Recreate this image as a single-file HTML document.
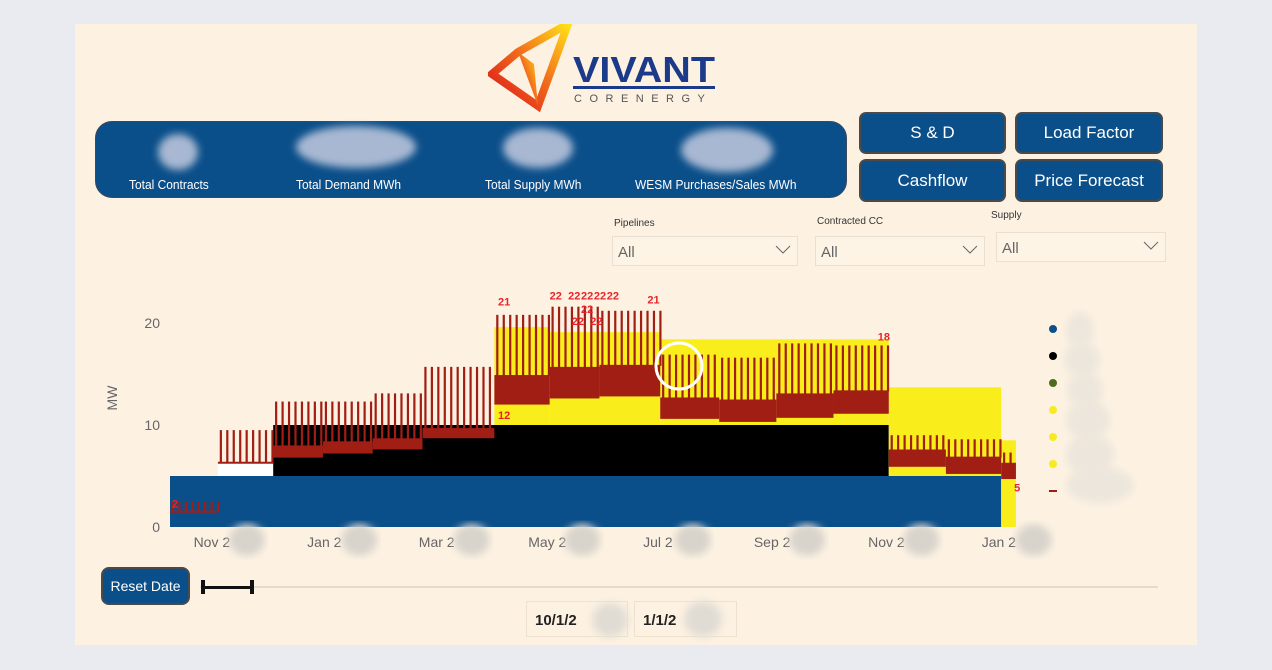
<!DOCTYPE html>
<html><head><meta charset="utf-8">
<style>
body{margin:0;width:1272px;height:670px;background:#e9ebf0;font-family:"Liberation Sans",sans-serif;position:relative;overflow:hidden}
.abs{position:absolute}
.canvas{left:75px;top:24px;width:1122px;height:621px;background:#fdf2e2}
.kpi{left:95px;top:121px;width:750px;height:75px;background:#0b4f8a;border-radius:17px;border:1px solid #3a4a5a}
.kl{color:#fff;font-size:13px;position:absolute;top:55px;white-space:nowrap;transform:scaleX(0.92);transform-origin:left}
.blob{position:absolute;border-radius:50%;filter:blur(4px)}
.btn{position:absolute;background:#0b4f8a;color:#fff;border-radius:7px;border:2px solid #4a4a4a;font-size:17px;display:flex;align-items:center;justify-content:center;box-sizing:border-box}
.lab{position:absolute;font-size:10px;color:#333}
.dd{position:absolute;border:1px solid #e8e0d2;background:#fdf4e6;box-sizing:border-box;color:#666;font-size:15px;padding:7px 0 0 5px}
.dd svg{position:absolute;right:6px;top:8px}
</style></head><body>
<div class="abs canvas"></div>

<svg class="abs" style="left:488px;top:24px" width="240" height="88">
<defs><linearGradient id="lg" x1="0" y1="1" x2="1" y2="0"><stop offset="0" stop-color="#d9151b"/><stop offset="0.5" stop-color="#f26a1b"/><stop offset="1" stop-color="#ffe11a"/></linearGradient></defs>
<polygon points="80,0 50,82 4,50 30,28" fill="none" stroke="url(#lg)" stroke-width="8"/>
<polygon points="30,28 46,40 50,82" fill="url(#lg)"/>
<text x="85" y="58" font-size="36" font-weight="bold" fill="#1c3a8a" font-family="Liberation Sans" textLength="142" lengthAdjust="spacingAndGlyphs">VIVANT</text>
<rect x="85" y="62" width="142" height="3" fill="#1c3a8a"/>
<text x="86" y="78" font-size="11" fill="#555" letter-spacing="7.5">CORENERGY</text>
</svg>

<div class="abs kpi">
  <div class="blob" style="left:62px;top:12px;width:40px;height:36px;background:#a8b8d2"></div>
  <div class="blob" style="left:200px;top:4px;width:120px;height:42px;background:#a8b8d2"></div>
  <div class="blob" style="left:407px;top:6px;width:70px;height:40px;background:#a8b8d2"></div>
  <div class="blob" style="left:585px;top:6px;width:92px;height:44px;background:#a8b8d2"></div>
  <div class="kl" style="left:33px">Total Contracts</div>
  <div class="kl" style="left:200px">Total Demand MWh</div>
  <div class="kl" style="left:389px">Total Supply MWh</div>
  <div class="kl" style="left:539px">WESM Purchases/Sales MWh</div>
</div>
<div class="btn" style="left:859px;top:112px;width:147px;height:42px">S &amp; D</div>
<div class="btn" style="left:1015px;top:112px;width:148px;height:42px">Load Factor</div>
<div class="btn" style="left:859px;top:159px;width:147px;height:43px">Cashflow</div>
<div class="btn" style="left:1015px;top:159px;width:148px;height:43px">Price Forecast</div>

<div class="lab" style="left:614px;top:218px">Pipelines</div>
<div class="dd" style="left:612px;top:236px;width:186px;height:30px">All<svg width="16" height="10"><polyline points="1,1 8,8 15,1" fill="none" stroke="#666"/></svg></div>
<div class="lab" style="left:817px;top:216px">Contracted CC</div>
<div class="dd" style="left:815px;top:236px;width:170px;height:30px">All<svg width="16" height="10"><polyline points="1,1 8,8 15,1" fill="none" stroke="#666"/></svg></div>
<div class="lab" style="left:991px;top:210px">Supply</div>
<div class="dd" style="left:996px;top:232px;width:170px;height:30px">All<svg width="16" height="10"><polyline points="1,1 8,8 15,1" fill="none" stroke="#666"/></svg></div>

<svg id="chart" class="abs" style="left:0;top:0" width="1272" height="670"></svg>

<div class="btn" style="left:101px;top:567px;width:89px;height:38px;font-size:14px;border-radius:8px">Reset Date</div>
<div class="abs" style="left:200px;top:586px;width:958px;height:2px;background:#e4dccd"></div>
<div class="abs" style="left:203px;top:586px;width:50px;height:3px;background:#111"></div>
<div class="abs" style="left:201px;top:580px;width:4px;height:14px;background:#111"></div>
<div class="abs" style="left:250px;top:580px;width:4px;height:14px;background:#111"></div>
<div class="abs" style="left:526px;top:601px;width:102px;height:36px;border:1px solid #eee2cf;box-sizing:border-box;font-size:15px;font-weight:bold;padding:10px 0 0 8px;color:#222">10/1/2</div>
<div class="abs" style="left:634px;top:601px;width:103px;height:36px;border:1px solid #eee2cf;box-sizing:border-box;font-size:15px;font-weight:bold;padding:10px 0 0 8px;color:#222">1/1/2</div>
<div class="blob" style="left:592px;top:603px;width:36px;height:34px;background:#e0dcd4"></div>
<div class="blob" style="left:684px;top:601px;width:38px;height:36px;background:#e0dcd4"></div>

<script>
// Time axis: days since mid-Oct (x=170). Month ticks.
const tickLabels=["Nov 2","Jan 2","Mar 2","May 2","Jul 2","Sep 2","Nov 2","Jan 2"];
const tickDays=[20,81,142,202,262,324,386,447];
const yTicks=[0,10,20];
// Stacked area blocks: [startDay, endDay, bottom, top]
const blueBlocks=[[0,451,0,5]];
const whiteBlocks=[[26,56,5,6.3]];
const blackBlocks=[[56,390,5,10]];
const yellowBlocks=[[176,206,10,19.6],[206,266,10,19.1],[266,390,10,18.4],[390,451,5,13.7],[451,459,0,8.5]];
// Red demand line segments
const redStart=[0,26,56,83,110,137,176,206,233,266,298,329,360,390,421,451];
const redEnd=[26,56,83,110,137,176,206,233,266,298,329,360,390,421,451,459];
const redLow=[1.5,6.3,6.9,7.3,7.7,8.8,12.1,12.7,12.9,10.7,10.4,10.8,11.2,6.0,5.3,4.8];
const redHigh=[1.5,6.3,7.9,8.3,8.6,9.6,14.8,15.6,15.8,12.6,12.4,13.0,13.3,7.5,6.8,6.2];
const redPeak=[2.5,9.5,12.3,12.3,13.1,15.7,20.8,21.6,21.2,16.9,16.6,18.0,17.8,9.0,8.6,7.3];
const dataLabels=[["2",1,1.9],["21",178,21.7],["22",206,22.3],["22",216,22.3],["22",223,22.3],["22",230,22.3],["22",237,22.3],["22",223,21],["22",218,19.8],["22",228,19.8],["12",178,10.6],["21",259,21.9],["18",384,18.3],["5",458,3.5]];
const legendColors=["#0b4f8a","#000000","#4e6b1e","#f7ea1f","#f7ea1f","#f7ea1f"];

const svg=document.getElementById('chart');
const NS='http://www.w3.org/2000/svg';
const X=d=>170+d*1.843;
const Y=v=>527-v*10.2;
function el(t,a){const e=document.createElementNS(NS,t);for(const k in a)e.setAttribute(k,a[k]);svg.appendChild(e);return e;}
function blocks(arr,color,name){arr.forEach(b=>{const r=el('rect',{x:X(b[0]),y:Y(b[3]),width:X(b[1])-X(b[0]),height:Y(b[2])-Y(b[3]),fill:color});

});}
yTicks.forEach(v=>{const t=el('text',{x:160,y:Y(v)+5,'text-anchor':'end','font-size':14,fill:'#666'});t.textContent=v;

});
const yt=el('text',{x:117,y:398,'font-size':14,fill:'#666',transform:'rotate(-90 117 398)','text-anchor':'middle'});yt.textContent='MW';


blocks(blueBlocks,'#0b4f8a','supply-area-blue');
blocks(whiteBlocks,'#ffffff','gap-area');
blocks(blackBlocks,'#000000','supply-area-black');
blocks(yellowBlocks,'#f9ee1c','supply-area-yellow');
// red segments: band + spikes
redStart.forEach((s,i)=>{
  const e=redEnd[i];
  const band=el('rect',{x:X(s),y:Y(redHigh[i])-1,width:X(e)-X(s),height:Y(redLow[i])-Y(redHigh[i])+2,fill:'#a01e14'});
  
  
  for(let d=s+1;d<e;d+=3.5){
    const sp=el('rect',{x:X(d),y:Y(redPeak[i]),width:2.2,height:Y(redHigh[i])-Y(redPeak[i]),fill:'#a01e14'});
    
    
  }
});
dataLabels.forEach(l=>{const t=el('text',{x:X(l[1]),y:Y(l[2]),'font-size':11,'font-weight':'bold',fill:'#e8242a'});t.textContent=l[0];

});
tickDays.forEach((d,i)=>{const t=el('text',{x:X(d)+5,y:547,'text-anchor':'middle','font-size':14,fill:'#666'});t.textContent=tickLabels[i];


const b=el('ellipse',{cx:X(d)+40,cy:540,rx:18,ry:16,fill:'#d8d4cc',filter:'url(#bl)'});

});
const defs=document.createElementNS(NS,'defs');defs.innerHTML='<filter id="bl"><feGaussianBlur stdDeviation="4"/></filter>';svg.insertBefore(defs,svg.firstChild);
const ring=el('circle',{cx:679,cy:366,r:23,fill:'none',stroke:'#fff','stroke-width':3});


legendColors.forEach((c,i)=>{const d=el('circle',{cx:1053,cy:329+i*27,r:4,fill:c});

});
const lr=el('rect',{x:1049,y:490,width:8,height:2,fill:'#a01e14'});


[[1080,330,14,18],[1082,360,18,18],[1085,390,18,18],[1088,420,22,20],[1090,455,24,22],[1100,485,34,18]].forEach(b=>{const e=el('ellipse',{cx:b[0],cy:b[1],rx:b[2],ry:b[3],fill:'#ece6dc',filter:'url(#bl)'});

});
</script>
</body></html>
